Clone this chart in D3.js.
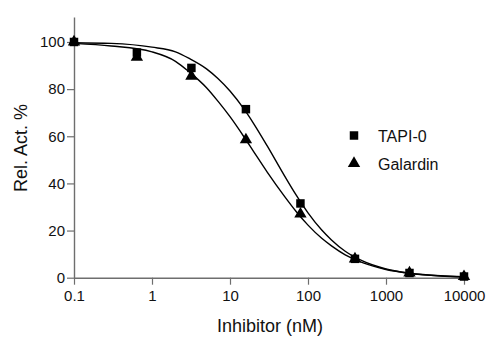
<!DOCTYPE html>
<html>
<head>
<meta charset="utf-8">
<script src="https://cdn.jsdelivr.net/npm/d3@7"></script>
<style>
  html, body { margin: 0; padding: 0; background: #fff; }
  svg { display: block; font-family: "Liberation Sans", Arial, sans-serif; }
</style>
</head>
<body>
<svg id="chart" width="500" height="341"></svg>
<script>
// Inhibitor concentrations (nM), 5-fold dilution series
const concentrations = [0.1, 0.64, 3.2, 16, 80, 400, 2000, 10000];
// Measured relative activity (%)
const tapiValues = [100, 95.5, 89, 71.5, 31.5, 8, 2, 0.5];
const galardinValues = [100, 93.5, 85.5, 58.5, 27, 8, 2, 0.5];

// Dose-response fit curves, sampled along the concentration range
const fitConc = [0.1, 0.3, 1, 2, 3, 5, 7, 10, 15, 20, 30, 50, 70, 100, 150, 200, 300, 500, 1000, 2000, 5000, 10000];
const tapiFit = [99.7, 99.4, 97.8, 95.8, 93.0, 88.6, 84.5, 79.2, 71.7, 65.5, 55.9, 43.2, 35.2, 27.5, 20.2, 16.0, 11.2, 7.1, 3.7, 1.9, 0.75, 0.38];
const galardinFit = [99.4, 98.3, 95.8, 91.8, 87.3, 80.6, 74.9, 68.3, 59.9, 53.6, 44.8, 34.5, 28.2, 22.3, 16.7, 13.5, 9.7, 6.4, 3.5, 1.9, 0.8, 0.4];

// Axis ticks and labels
const xTicks = [0.1, 1, 10, 100, 1000, 10000];
const xTickLabels = ["0.1", "1", "10", "100", "1000", "10000"];
const yTicks = [0, 20, 40, 60, 80, 100];
const seriesNames = ["TAPI-0", "Galardin"];

const svg = d3.select("#chart");
const axisColor = "#6e6e6e";

const x = d3.scaleLog().domain([0.1, 10000]).range([74, 464]);
const y = d3.scaleLinear().domain([0, 110.6]).range([277.7, 17]);

// Y axis
const yAxis = svg.append("g")
  .attr("transform", `translate(${x(0.1)},0)`)
  .call(d3.axisLeft(y).tickValues(yTicks).tickSize(7).tickPadding(2).tickSizeOuter(0));
// X axis
const xAxis = svg.append("g")
  .attr("transform", `translate(0,${y(0)})`)
  .call(d3.axisBottom(x).tickValues(xTicks).tickFormat((d, i) => xTickLabels[i]).tickSize(7).tickPadding(5).tickSizeOuter(0));

[yAxis, xAxis].forEach(g => {
  g.select(".domain").attr("stroke", axisColor).attr("stroke-width", 1.4);
  g.selectAll(".tick line").attr("stroke", axisColor).attr("stroke-width", 1.2);
  g.selectAll(".tick text")
    .attr("fill", "#111")
    .style("font-family", "'Liberation Sans', Arial, sans-serif")
    .style("font-size", "15px");
});
xAxis.selectAll(".tick text").attr("dy", "0.75em");

// Axis titles
svg.append("text")
  .attr("x", 270).attr("y", 331.5)
  .attr("text-anchor", "middle")
  .attr("fill", "#111")
  .style("font-size", "18px")
  .text("Inhibitor (nM)");

svg.append("text")
  .attr("transform", `translate(27,148) rotate(-90)`)
  .attr("text-anchor", "middle")
  .attr("fill", "#111")
  .style("font-size", "18px")
  .text("Rel. Act. %");

// Fit curves
const line = d3.line()
  .x(d => x(d[0]))
  .y(d => y(d[1]))
  .curve(d3.curveMonotoneX);

[tapiFit, galardinFit].forEach(vals => {
  svg.append("path")
    .datum(fitConc.map((c, i) => [c, vals[i]]))
    .attr("d", line)
    .attr("fill", "none")
    .attr("stroke", "#000")
    .attr("stroke-width", 1.4);
});

// Markers
const square = d3.symbol().type(d3.symbolSquare).size(72);
const triangle = d3.symbol().type(d3.symbolTriangle).size(66);

svg.append("g").selectAll("path")
  .data(concentrations.map((c, i) => [c, galardinValues[i]]))
  .join("path")
  .attr("d", triangle)
  .attr("transform", d => `translate(${x(d[0])},${y(d[1])})`)
  .attr("fill", "#000");

svg.append("g").selectAll("path")
  .data(concentrations.map((c, i) => [c, tapiValues[i]]))
  .join("path")
  .attr("d", square)
  .attr("transform", d => `translate(${x(d[0])},${y(d[1])})`)
  .attr("fill", "#000");

// Legend
const legend = svg.append("g");
legend.append("path").attr("d", square).attr("transform", "translate(354,135.5)").attr("fill", "#000");
legend.append("path").attr("d", triangle).attr("transform", "translate(354,163.5)").attr("fill", "#000");
legend.selectAll("text")
  .data(seriesNames)
  .join("text")
  .attr("x", 378)
  .attr("y", (d, i) => 141.5 + i * 28)
  .attr("fill", "#111")
  .style("font-size", "16px")
  .text(d => d);
</script>
</body>
</html>
